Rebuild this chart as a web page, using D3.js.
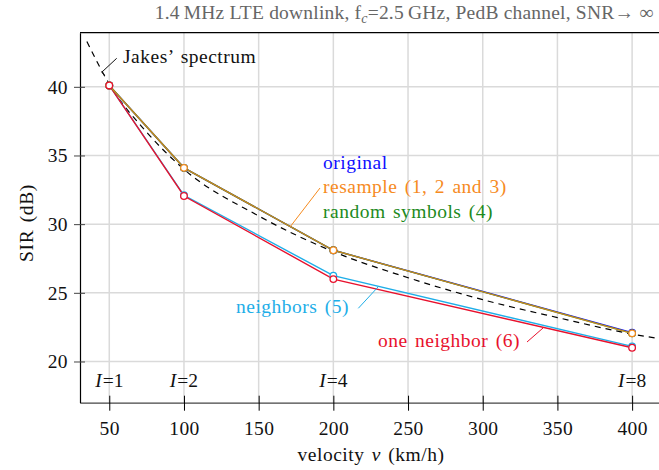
<!DOCTYPE html>
<html>
<head>
<script src="https://d3js.org/d3.v7.min.js"></script>
<style>
  body { margin: 0; background: #fff; }
  text { font-family: "Liberation Serif", "Times New Roman", serif; }
</style>
</head>
<body>
<div id="graph"></div>
<script>
// velocities (km/h) where the curves were evaluated
const velocities = [50, 100, 200, 400];
const interpLabels = ["I=1", "I=2", "I=4", "I=8"];

// SIR values in dB
const sirOriginal   = [40.1, 34.1, 28.1, 22.1];
const sirResample   = [40.1, 34.1, 28.1, 22.05];
const sirRandom     = [40.1, 34.1, 28.1, 22.05];
const sirNeighbors  = [40.1, 32.1, 26.25, 21.1];
const sirOneNeighbor = [40.1, 32.05, 26.0, 21.0];

// dashed reference curve (Jakes' spectrum)
const jakesV   = [35, 50, 75, 100, 150, 200, 250, 300, 350, 400, 416];
const jakesSir = [43.3, 40.2, 36.7, 34.0, 30.6, 28.0, 26.1, 24.5, 23.2, 22.0, 21.7];

const xTicks = [50, 100, 150, 200, 250, 300, 350, 400];
const yTicks = [20, 25, 30, 35, 40];

const W = 659, H = 470;
const margin = { top: 32.7, right: 0, bottom: 67.3, left: 80 };
const FS = "19.5px";

const svg = d3.select("#graph").append("svg")
  .attr("width", W).attr("height", H);

const x = d3.scaleLinear().domain([30.4, 418]).range([margin.left, W - margin.right]);
const y = d3.scaleLinear().domain([17, 43.94]).range([H - margin.bottom, margin.top]);

// grid
svg.append("g").selectAll("line.gx").data(xTicks).join("line")
  .attr("x1", d => x(d)).attr("x2", d => x(d))
  .attr("y1", y.range()[1]).attr("y2", y.range()[0])
  .attr("stroke", "#dadada").attr("stroke-width", 1.5);
svg.append("g").selectAll("line.gy").data(yTicks).join("line")
  .attr("y1", d => y(d)).attr("y2", d => y(d))
  .attr("x1", x.range()[0]).attr("x2", x.range()[1])
  .attr("stroke", "#dadada").attr("stroke-width", 1.5);

// axes
const xAxis = svg.append("g")
  .attr("transform", `translate(0,${y.range()[0]})`)
  .call(d3.axisBottom(x).tickValues(xTicks).tickSizeInner(8).tickSizeOuter(0).tickPadding(10));
xAxis.selectAll(".tick line").attr("y1", -7).attr("y2", 8).attr("stroke", "#000");
xAxis.select(".domain").attr("stroke", "#444").attr("stroke-width", 1.3);

const yAxis = svg.append("g")
  .attr("transform", `translate(${x.range()[0]},0)`)
  .call(d3.axisLeft(y).tickValues(yTicks).tickSizeInner(6).tickSizeOuter(0).tickPadding(6));
yAxis.selectAll(".tick line").attr("x1", -6).attr("x2", 5).attr("stroke", "#444");
yAxis.select(".domain").attr("stroke", "#000").attr("stroke-width", 1.2);

svg.selectAll(".tick text")
  .style("font-family", "Liberation Serif").style("font-size", FS)
  .style("letter-spacing", "0.4px").attr("fill", "#111");

// top border
svg.append("line")
  .attr("x1", x.range()[0]).attr("x2", x.range()[1])
  .attr("y1", y.range()[1]).attr("y2", y.range()[1])
  .attr("stroke", "#000").attr("stroke-width", 1.3);

// Jakes dashed curve
const jakes = jakesV.map((v, i) => [v, jakesSir[i]]);
svg.append("path")
  .datum(jakes)
  .attr("fill", "none").attr("stroke", "#000").attr("stroke-width", 1.2)
  .attr("stroke-dasharray", "6,5")
  .attr("d", d3.line().x(d => x(d[0])).y(d => y(d[1])).curve(d3.curveMonotoneX));

const series = [
  { name: "original", values: sirOriginal, color: "#1010ff", opacity: 1 },
  { name: "neighbors", values: sirNeighbors, color: "#1eaee8", opacity: 1 },
  { name: "one neighbor", values: sirOneNeighbor, color: "#e8112d", opacity: 1 },
  { name: "random symbols", values: sirRandom, color: "#1d8a1d", opacity: 1 },
  { name: "resample", values: sirResample, color: "#f68b1f", opacity: 0.78 }
];

const line = d3.line().x(d => x(d[0])).y(d => y(d[1]));

series.forEach(s => {
  const pts = velocities.map((v, i) => [v, s.values[i]]);
  svg.append("path").datum(pts)
    .attr("fill", "none").attr("stroke", s.color).attr("stroke-width", 1.4)
    .attr("stroke-opacity", s.opacity)
    .attr("d", line);
});

// markers (drawn after lines, top series last)
const markerOrder = [series[0], series[1], series[3], series[4], series[2]];
markerOrder.forEach(s => {
  svg.append("g").selectAll("circle")
    .data(velocities.map((v, i) => [v, s.values[i]]))
    .join("circle")
    .attr("cx", d => x(d[0])).attr("cy", d => y(d[1]))
    .attr("r", 3.3)
    .attr("fill", "#fff").attr("stroke", s.color).attr("stroke-width", 1.3);
});

// interpolation factor labels
svg.append("g").selectAll("text")
  .data(velocities)
  .join("text")
  .attr("x", d => x(d)).attr("y", 387)
  .attr("text-anchor", "middle")
  .style("font-size", FS)
  .attr("fill", "#111")
  .each(function(d, i) {
    const t = d3.select(this);
    const parts = interpLabels[i].split("=");
    t.append("tspan").style("font-style", "italic").style("letter-spacing", "1px").text(parts[0]);
    t.append("tspan").text("=" + parts[1]);
  });

// annotations
function label(txt, px, py, color) {
  return svg.append("text").attr("x", px).attr("y", py)
    .style("font-size", FS).style("letter-spacing", "0.5px").style("word-spacing", "2px")
    .attr("fill", color).text(txt);
}
function leader(points, color) {
  svg.append("path").attr("d", d3.line()(points))
    .attr("fill", "none").attr("stroke", color).attr("stroke-width", 1);
}

label("Jakes\u2019 spectrum", 123, 63, "#111");
leader([[105, 75.5], [101.7, 72.3], [116.7, 58.3]], "#111");

label("original", 323, 169, "#1010ff");
label("resample (1, 2 and 3)", 323, 193, "#f68b1f");
label("random symbols (4)", 323, 217.5, "#1d8a1d");
leader([[320, 188], [290, 227]], "#f68b1f");

label("neighbors (5)", 236, 313, "#1eaee8");
leader([[358.3, 308.3], [378.3, 286.7]], "#1eaee8");

label("one neighbor (6)", 378, 347, "#e8112d");
leader([[527, 342], [543, 328]], "#e8112d");

// title
const title = svg.append("text")
  .attr("x", 404).attr("y", 19)
  .attr("text-anchor", "middle")
  .style("font-size", FS).style("letter-spacing", "0.2px")
  .attr("fill", "#666");
title.append("tspan").text("1.4\u2009MHz LTE downlink, f");
title.append("tspan").style("font-style", "italic").style("font-size", "14px").attr("dy", 4).text("c");
title.append("tspan").attr("dy", -4).text("=2.5\u2009GHz, PedB channel, SNR\u2192 \u221e");

// axis labels
const xl = svg.append("text")
  .attr("x", 371).attr("y", 461)
  .attr("text-anchor", "middle")
  .style("font-size", FS).style("letter-spacing", "0.5px").style("word-spacing", "2px")
  .attr("fill", "#111");
xl.append("tspan").text("velocity ");
xl.append("tspan").style("font-style", "italic").text("v");
xl.append("tspan").text(" (km/h)");

svg.append("text")
  .attr("transform", "translate(33,223) rotate(-90)")
  .attr("text-anchor", "middle")
  .style("font-size", FS).style("letter-spacing", "0.6px").style("word-spacing", "2px")
  .attr("fill", "#111")
  .text("SIR (dB)");
</script>
</body>
</html>
